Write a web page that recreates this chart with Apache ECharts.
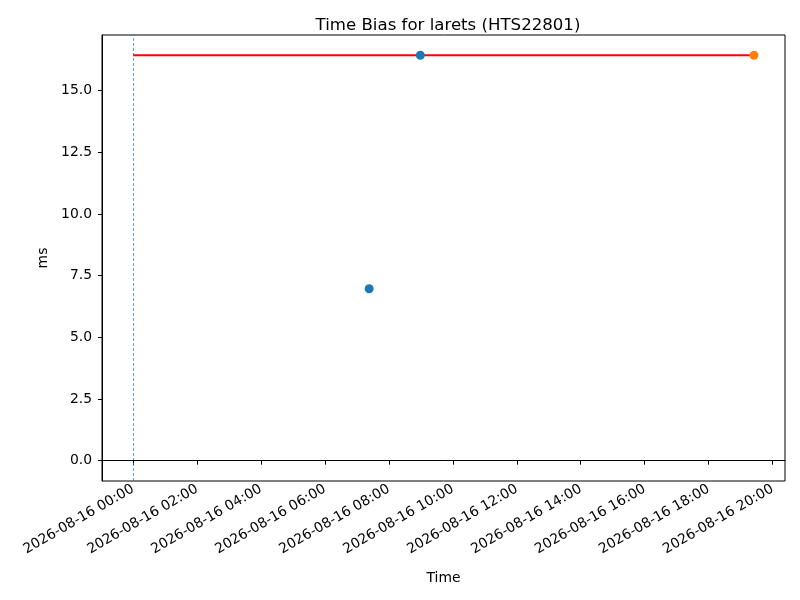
<!DOCTYPE html>
<html>
<head>
<meta charset="utf-8">
<script src="https://cdn.jsdelivr.net/npm/echarts@6/dist/echarts.min.js"></script>
<style>
html, body { margin: 0; padding: 0; background: #fff; }
#main { width: 800px; height: 600px; }
</style>
</head>
<body>
<div id="main"></div>
<script>
(function(){
    var day = '2026-08-16';
    var xTickTimes = ['00:00', '02:00', '04:00', '06:00', '08:00', '10:00',
                      '12:00', '14:00', '16:00', '18:00', '20:00'];
    var yTicks = [0, 2.5, 5, 7.5, 10, 12.5, 15];

    // time bias measurements (ms)
    var blueTimes = ['07:23', '08:59'];
    var blueValues = [6.97, 16.43];
    var orangeTimes = ['19:25'];
    var orangeValues = [16.43];

    // reference level drawn from the start of the day to the last point
    var refLevel = 16.43;
    var refStart = '00:00';
    var refEnd = '19:25';

    function ts(hm) {
        return new Date(day + 'T' + hm + ':00').getTime();
    }
    function pad(n) { return n < 10 ? '0' + n : '' + n; }
    function fmt(v) {
        var d = new Date(v);
        return d.getFullYear() + '-' + pad(d.getMonth() + 1) + '-' + pad(d.getDate()) +
            ' ' + pad(d.getHours()) + ':' + pad(d.getMinutes());
    }
    function pairs(times, values) {
        return times.map(function(t, i){ return [ts(t), values[i]]; });
    }

    // matplotlib style 5% margins around the data
    var x0 = ts(refStart), x1 = ts(refEnd);
    var xPad = (x1 - x0) * 0.05;
    var y0 = 0, y1 = refLevel;
    var yPad = (y1 - y0) * 0.05;

    var font = 'DejaVu Sans';
    var myChart = echarts.init(document.getElementById('main'));
    var option = {
        animation: false,
        backgroundColor: '#fff',
        textStyle: { fontFamily: font },
        title: {
            text: 'Time Bias for larets (HTS22801)',
            left: 443,
            textAlign: 'center',
            top: 12,
            textStyle: { fontFamily: font, fontSize: 16.6, fontWeight: 'normal', color: '#000' }
        },
        grid: {
            left: 102, right: 15, top: 35, bottom: 119,
            show: true, borderColor: '#000', borderWidth: 1
        },
        xAxis: {
            type: 'value',
            min: x0 - xPad,
            max: x1 + xPad,
            scale: true,
            name: 'Time',
            nameLocation: 'middle',
            nameGap: 90,
            nameTextStyle: { fontFamily: font, fontSize: 13.9, color: '#000' },
            axisLine: { show: true, lineStyle: { color: '#000', width: 1 } },
            axisTick: {
                show: true, length: 4, inside: false,
                lineStyle: { color: '#000' },
                customValues: xTickTimes.map(ts)
            },
            axisLabel: {
                rotate: 30,
                margin: 7,
                fontSize: 13.9,
                color: '#000',
                fontFamily: font,
                customValues: xTickTimes.map(ts),
                formatter: function(v){ return fmt(v); }
            },
            splitLine: { show: false }
        },
        yAxis: {
            type: 'value',
            min: y0 - yPad,
            max: y1 + yPad,
            name: 'ms',
            nameLocation: 'middle',
            nameGap: 52,
            nameTextStyle: { fontFamily: font, fontSize: 13.9, color: '#000' },
            axisLine: { show: true, lineStyle: { color: '#000', width: 1 } },
            axisTick: {
                show: true, length: 4,
                lineStyle: { color: '#000' },
                customValues: yTicks
            },
            axisLabel: {
                margin: 10,
                fontSize: 13.9,
                color: '#000',
                fontFamily: font,
                customValues: yTicks,
                formatter: function(v){ return v.toFixed(1); }
            },
            splitLine: { show: false }
        },
        series: [
            {
                type: 'line',
                data: [[ts(refStart), refLevel], [ts(refEnd), refLevel]],
                symbol: 'none',
                lineStyle: { color: '#ff0000', width: 2 },
                z: 2,
                markLine: {
                    silent: true,
                    symbol: 'none',
                    label: { show: false },
                    animation: false,
                    data: [
                        { xAxis: ts(refStart), lineStyle: { color: '#1f77b4', width: 0.7, type: [3, 2], opacity: 1 } },
                        { yAxis: 0, lineStyle: { color: '#000', width: 1, type: 'solid', opacity: 1 } }
                    ]
                }
            },
            {
                type: 'scatter',
                data: pairs(blueTimes, blueValues),
                symbolSize: 9,
                itemStyle: { color: '#1f77b4', opacity: 1 },
                z: 3
            },
            {
                type: 'scatter',
                data: pairs(orangeTimes, orangeValues),
                symbolSize: 9,
                itemStyle: { color: '#ff7f0e', opacity: 1 },
                z: 3
            }
        ]
    };
    myChart.setOption(option);
})();
</script>
</body>
</html>
